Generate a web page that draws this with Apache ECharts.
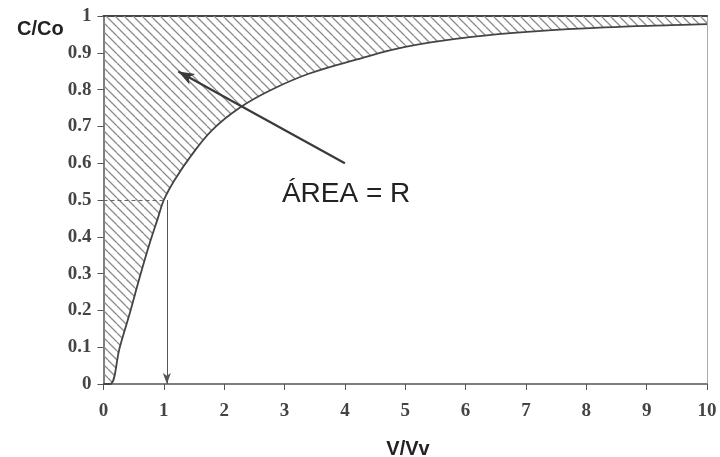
<!DOCTYPE html>
<html><head><meta charset="utf-8">
<script src="https://cdn.jsdelivr.net/npm/echarts@6/dist/echarts.min.js"></script>
<style>html,body{margin:0;padding:0;background:#fff}#c{width:720px;height:457px}</style>
</head><body><div id="c"></div>
<script>
// Breakthrough curve C/Co vs V/Vv
const vvValues  = [0, 0.11, 0.27, 0.44, 0.60, 0.77, 0.90, 1.0, 1.2, 1.45, 1.8, 2.25, 2.75, 3.4, 4.2, 5.0, 6.1, 7.2, 8.3, 9.4, 10];
const ccoValues = [0, 0, 0.10, 0.195, 0.29, 0.385, 0.45, 0.50, 0.56, 0.62, 0.69, 0.75, 0.797, 0.843, 0.882, 0.916, 0.943, 0.959, 0.969, 0.975, 0.978];
const xTickLabels = ['0','1','2','3','4','5','6','7','8','9','10'];
const yTickLabels = ['0','0.1','0.2','0.3','0.4','0.5','0.6','0.7','0.8','0.9','1'];
const yAxisTitle = 'C/Co';
const xAxisTitle = 'V/Vv';
const annotationText = 'ÁREA = R';
const annotationAt = [4.02, 0.515];
const arrowFrom = [4.0, 0.60];
const arrowTo = [1.24, 0.849];
const halfPoint = [1.05, 0.5];

// hatch pattern
const s = 9;
const pc = document.createElement('canvas');
pc.width = s; pc.height = s;
const g = pc.getContext('2d');
g.strokeStyle = '#8a8a8a';
g.lineWidth = 1.3;
g.beginPath();
g.moveTo(0, 0); g.lineTo(s, s);
g.moveTo(-s, 0); g.lineTo(0, s);
g.moveTo(s, 0); g.lineTo(2 * s, s);
g.stroke();

const data = vvValues.map((v, i) => [v, ccoValues[i]]);
const serif = 'Liberation Serif';

const chart = echarts.init(document.getElementById('c'), null, {renderer: 'canvas'});
chart.setOption({
  animation: false,
  backgroundColor: '#fff',
  title: [
    {text: yAxisTitle, left: 12, top: 14, textStyle: {fontFamily: 'Liberation Sans', fontSize: 20, fontWeight: 'bold', color: '#222'}},
    {text: xAxisTitle, left: 403, top: 434, textAlign: 'center', textStyle: {fontFamily: 'Liberation Sans', fontSize: 20, fontWeight: 'bold', color: '#222'}}
  ],
  grid: {left: 103.5, right: 13, top: 16, bottom: 73, containLabel: false},
  xAxis: [
    {type: 'value', min: 0, max: 10, interval: 1, position: 'bottom',
     axisLine: {show: true, onZero: false, lineStyle: {color: '#555', width: 1.5}},
     axisTick: {show: true, length: 6, lineStyle: {color: '#555'}},
     axisLabel: {margin: 18, fontFamily: serif, fontSize: 19, fontWeight: 'bold', color: '#444',
                 formatter: v => xTickLabels[Math.round(v)]},
     splitLine: {show: false}},
    {type: 'value', min: 0, max: 10, position: 'top',
     axisLine: {show: true, onZero: false, lineStyle: {color: '#444', width: 2}},
     axisTick: {show: false}, axisLabel: {show: false}, splitLine: {show: false}}
  ],
  yAxis: [
    {type: 'value', min: 0, max: 1, interval: 0.1,
     axisLine: {show: true, onZero: false, lineStyle: {color: '#555', width: 1.5}},
     axisTick: {show: true, length: 6, lineStyle: {color: '#555'}},
     axisLabel: {margin: 12, fontFamily: serif, fontSize: 19, fontWeight: 'bold', color: '#444',
                 formatter: v => yTickLabels[Math.round(v * 10)]},
     splitLine: {show: false}},
    {type: 'value', min: 0, max: 1, position: 'right',
     axisLine: {show: true, onZero: false, lineStyle: {color: '#aaa', width: 1}},
     axisTick: {show: false}, axisLabel: {show: false}, splitLine: {show: false}}
  ],
  series: [
    {type: 'line', data: data, xAxisIndex: 0, yAxisIndex: 0,
     smooth: 0.4, showSymbol: false, symbol: 'none',
     lineStyle: {color: '#444', width: 1.8},
     areaStyle: {origin: 'end', color: {image: pc, repeat: 'repeat'}, opacity: 1},
     silent: true,
     markLine: {
       silent: true, animation: false,
       label: {show: false},
       data: [
         [{coord: arrowFrom, symbol: 'none', lineStyle: {color: '#3a3a3a', width: 2.2, type: 'solid'}},
          {coord: arrowTo, symbol: 'arrow', symbolSize: [9, 16]}],
         [{coord: [halfPoint[0], halfPoint[1]], symbol: 'none', lineStyle: {color: '#555', width: 1, type: 'solid'}},
          {coord: [halfPoint[0], 0], symbol: 'arrow', symbolSize: [6, 11]}],
         [{coord: [0, halfPoint[1]], symbol: 'none', lineStyle: {color: '#666', width: 1, type: [4, 3]}},
          {coord: [halfPoint[0] - 0.04, halfPoint[1]], symbol: 'none'}]
       ]
     },
     markPoint: {
       silent: true, animation: false,
       symbol: 'circle', symbolSize: 1, itemStyle: {color: 'rgba(0,0,0,0)'},
       label: {show: true, position: 'inside', fontFamily: 'Liberation Sans', fontSize: 28, color: '#222',
               formatter: annotationText},
       data: [{coord: annotationAt}]
     }
    }
  ]
});
</script></body></html>
